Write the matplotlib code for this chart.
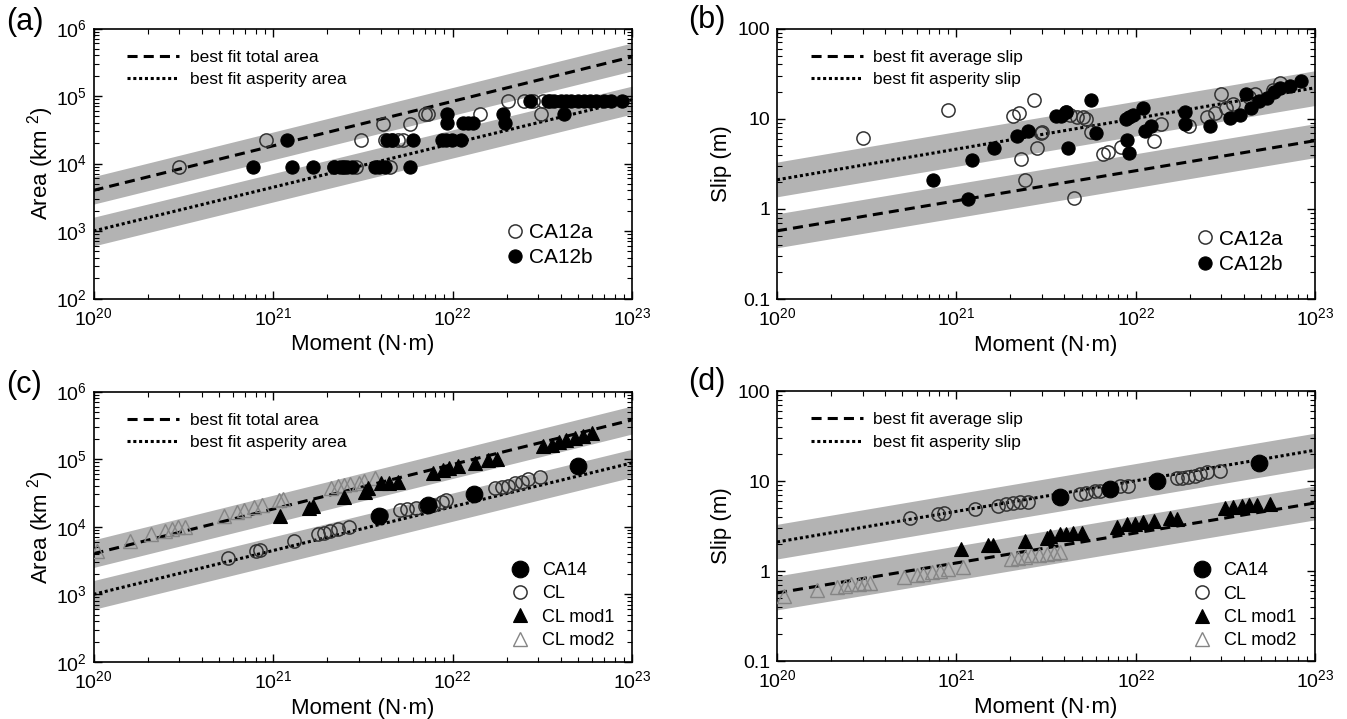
import matplotlib
matplotlib.use('Agg')
import matplotlib.pyplot as plt
from matplotlib import font_manager
from matplotlib.ticker import LogLocator, FixedLocator, FixedFormatter, NullFormatter

installed = {f.name for f in font_manager.fontManager.ttflist}
narrow = 'Liberation Sans Narrow' if 'Liberation Sans Narrow' in installed else 'Liberation Sans'

plt.rcParams['font.family'] = ['Liberation Sans', 'DejaVu Sans']
plt.rcParams['mathtext.fontset'] = 'custom'
plt.rcParams['mathtext.rm'] = 'Liberation Sans'
plt.rcParams['mathtext.it'] = 'Liberation Sans:italic'
plt.rcParams['mathtext.bf'] = 'Liberation Sans:bold'

# ---- best fit lines and bands (values at M = 1e20 and 1e23) ----
fit_m = [1e20, 1e23]
total_area = [4.0e3, 3.8e5]
total_area_lo = [2.5e3, 2.35e5]
total_area_hi = [6.4e3, 6.1e5]
asp_area = [1.0e3, 8.8e4]
asp_area_lo = [6.0e2, 5.4e4]
asp_area_hi = [1.6e3, 1.4e5]
avg_slip = [0.57, 5.7]
avg_slip_lo = [0.37, 3.7]
avg_slip_hi = [0.88, 8.8]
asp_slip = [2.1, 22.0]
asp_slip_lo = [1.36, 14.0]
asp_slip_hi = [3.3, 34.0]

# ---- (a) area, CA12a / CA12b ----
a_open_m = [3.0e20, 9.2e20, 2.2e21, 2.5e21, 2.9e21, 3.1e21, 4.1e21, 4.2e21, 4.5e21, 4.6e21,
            5.0e21, 5.3e21, 5.8e21, 7.0e21, 7.3e21, 1.42e22, 2.04e22, 2.5e22, 2.8e22, 3.1e22,
            3.2e22, 3.5e22]
a_open_a = [8.9e3, 2.2e4, 8.9e3, 8.9e3, 8.9e3, 2.2e4, 3.9e4, 2.2e4, 8.9e3, 2.2e4,
            2.2e4, 2.2e4, 3.9e4, 5.4e4, 5.4e4, 5.4e4, 8.4e4, 8.4e4, 8.4e4, 5.4e4,
            8.4e4, 8.4e4]
a_fill_m = [7.7e20, 1.19e21, 1.27e21, 1.67e21, 2.2e21, 2.35e21, 2.45e21, 2.6e21, 2.75e21, 3.7e21,
            3.9e21, 4.2e21, 5.8e21, 4.3e21, 4.6e21, 6.0e21, 8.7e21, 9.2e21, 9.9e21, 1.12e22,
            9.3e21, 9.3e21, 1.15e22, 1.22e22, 1.3e22, 1.92e22, 1.95e22, 4.2e22, 2.7e22, 3.4e22,
            3.7e22, 4.0e22, 4.3e22, 4.6e22, 5.0e22, 5.4e22, 5.8e22, 6.3e22, 7.0e22, 7.6e22,
            8.8e22]
a_fill_a = [8.9e3, 2.2e4, 8.9e3, 8.9e3, 8.9e3, 8.9e3, 8.9e3, 8.9e3, 8.9e3, 8.9e3,
            8.9e3, 8.9e3, 8.9e3, 2.2e4, 2.2e4, 2.2e4, 2.2e4, 2.2e4, 2.2e4, 2.2e4,
            5.4e4, 4.0e4, 4.0e4, 4.0e4, 4.0e4, 5.4e4, 4.0e4, 5.4e4, 8.4e4, 8.4e4,
            8.4e4, 8.4e4, 8.4e4, 8.4e4, 8.4e4, 8.4e4, 8.4e4, 8.4e4, 8.4e4, 8.4e4,
            8.4e4]

# ---- (b) slip, CA12a / CA12b ----
b_open_m = [3.0e20, 9.0e20, 2.08e21, 2.24e21, 2.7e21, 2.3e21, 2.4e21, 2.8e21, 2.96e21, 3.0e21,
            4.1e21, 4.3e21, 4.7e21, 5.1e21, 5.3e21, 4.55e21, 5.6e21, 6.6e21, 7.0e21, 8.3e21,
            1.26e22, 1.39e22, 1.98e22, 2.5e22, 2.78e22, 3.0e22, 3.2e22, 3.5e22, 4.3e22, 4.6e22,
            5.8e22, 6.4e22]
b_open_s = [6.1, 12.6, 10.6, 11.7, 16.0, 3.6, 2.1, 4.7, 6.9, 7.1,
            12.0, 11.0, 10.4, 10.5, 9.8, 1.31, 7.2, 4.1, 4.3, 4.8,
            5.7, 8.7, 8.2, 10.4, 11.5, 18.9, 13.2, 14.6, 17.3, 19.0,
            21.0, 25.0]
b_fill_m = [7.4e20, 1.16e21, 1.23e21, 1.63e21, 2.18e21, 2.5e21, 3.6e21, 3.85e21, 4.1e21, 4.2e21,
            5.6e21, 6.0e21, 8.8e21, 9.2e21, 9.7e21, 8.9e21, 9.2e21, 1.1e22, 1.13e22, 1.22e22,
            1.88e22, 1.88e22, 2.6e22, 3.36e22, 3.8e22, 4.1e22, 4.4e22, 4.9e22, 5.4e22, 5.9e22,
            6.4e22, 7.3e22, 8.4e22]
b_fill_s = [2.1, 1.3, 3.5, 4.7, 6.4, 7.3, 10.6, 10.8, 12.0, 4.7,
            16.0, 6.9, 9.9, 10.5, 10.9, 5.8, 4.2, 13.0, 7.3, 8.2,
            12.0, 8.7, 8.2, 10.1, 10.9, 19.0, 13.0, 15.6, 17.0, 20.0,
            22.0, 23.0, 26.0]

# ---- (c) area, CA14 / CL / CL mod1 / CL mod2 ----
c_ca14_m = [3.9e21, 7.3e21, 1.31e22, 5.0e22]
c_ca14_a = [1.45e4, 2.1e4, 3.1e4, 7.8e4]
c_cl_m = [5.6e20, 8.0e20, 8.5e20, 1.31e21, 1.77e21, 1.93e21, 2.08e21, 2.3e21, 2.66e21, 4.0e21,
          5.1e21, 5.6e21, 6.3e21, 7.0e21, 7.8e21, 8.7e21, 9.2e21, 1.72e22, 1.88e22, 2.04e22,
          2.23e22, 2.43e22, 2.65e22, 3.08e22]
c_cl_a = [3.5e3, 4.4e3, 4.5e3, 6.2e3, 7.8e3, 8.2e3, 8.7e3, 9.2e3, 1.0e4, 1.5e4,
          1.74e4, 1.84e4, 1.9e4, 2.0e4, 2.07e4, 2.3e4, 2.45e4, 3.8e4, 3.9e4, 4.0e4,
          4.4e4, 4.6e4, 5.0e4, 5.5e4]
c_m1_m = [1.09e21, 1.59e21, 1.66e21, 2.5e21, 3.24e21, 3.4e21, 4.0e21, 4.45e21, 4.97e21, 7.8e21,
          8.85e21, 9.6e21, 1.07e22, 1.33e22, 1.58e22, 1.76e22, 3.2e22, 3.6e22, 3.9e22, 4.3e22,
          4.8e22, 5.3e22, 6.0e22]
c_m1_a = [1.46e4, 1.9e4, 2.0e4, 2.75e4, 3.3e4, 3.7e4, 4.4e4, 4.5e4, 4.6e4, 6.2e4,
          6.8e4, 7.3e4, 7.8e4, 8.7e4, 9.8e4, 1.0e5, 1.55e5, 1.63e5, 1.78e5, 1.9e5,
          2.07e5, 2.2e5, 2.4e5]
c_m2_m = [1.05e20, 1.6e20, 2.1e20, 2.5e20, 2.74e20, 2.94e20, 3.25e20, 5.3e20, 6.3e20, 6.9e20,
          7.8e20, 8.7e20, 1.08e21, 1.13e21, 2.1e21, 2.3e21, 2.5e21, 2.7e21, 3.0e21, 3.2e21,
          3.7e21]
c_m2_a = [4.4e3, 6.2e3, 7.8e3, 8.7e3, 9.2e3, 9.8e3, 1.0e4, 1.46e4, 1.64e4, 1.78e4,
          1.95e4, 2.1e4, 2.45e4, 2.54e4, 3.8e4, 4.0e4, 4.1e4, 4.3e4, 4.5e4, 4.7e4,
          5.2e4]

# ---- (d) slip, CA14 / CL / CL mod1 / CL mod2 ----
d_ca14_m = [3.8e21, 7.2e21, 1.31e22, 4.9e22]
d_ca14_s = [6.7, 8.2, 10.1, 15.8]
d_cl_m = [5.5e20, 7.9e20, 8.5e20, 1.27e21, 1.71e21, 1.9e21, 2.07e21, 2.26e21, 2.52e21, 4.9e21,
          5.3e21, 5.9e21, 6.3e21, 8.2e21, 9.1e21, 1.7e22, 1.81e22, 1.97e22, 2.14e22, 2.29e22,
          2.49e22, 2.96e22]
d_cl_s = [3.9, 4.3, 4.4, 4.9, 5.3, 5.6, 5.7, 5.8, 5.9, 7.2,
          7.3, 7.7, 7.8, 8.7, 8.9, 10.9, 10.9, 11.0, 11.5, 12.0,
          12.5, 13.0]
d_m1_m = [1.06e21, 1.51e21, 1.61e21, 2.4e21, 3.2e21, 3.33e21, 3.8e21, 4.1e21, 4.5e21, 5.0e21,
          7.9e21, 8.9e21, 9.9e21, 1.1e22, 1.26e22, 1.56e22, 1.7e22, 3.15e22, 3.5e22, 3.9e22,
          4.26e22, 4.74e22, 5.6e22]
d_m1_s = [1.75, 1.95, 1.95, 2.18, 2.34, 2.45, 2.55, 2.6, 2.65, 2.65,
          3.07, 3.3, 3.35, 3.5, 3.64, 3.86, 3.8, 5.0, 5.2, 5.3,
          5.35, 5.45, 5.6]
d_m2_m = [1.09e20, 1.67e20, 2.16e20, 2.4e20, 2.6e20, 2.86e20, 3.07e20, 3.3e20, 5.1e20, 6.0e20,
          6.5e20, 7.3e20, 8.1e20, 9.0e20, 1.09e21, 2.03e21, 2.2e21, 2.4e21, 2.6e21, 2.9e21,
          3.2e21, 3.5e21, 3.8e21]
d_m2_s = [0.53, 0.61, 0.66, 0.69, 0.71, 0.72, 0.73, 0.74, 0.85, 0.91,
          0.93, 0.98, 1.0, 1.05, 1.1, 1.36, 1.4, 1.42, 1.49, 1.52,
          1.55, 1.58, 1.62]

BAND = '#b3b3b3'
DASH = (3.3, 2.0)
DOT = (1.0, 0.9)

fig = plt.figure(figsize=(13.47, 7.19), dpi=100)
W, H = 1347.0, 719.0
pos = {
    'a': [93.5 / W, 1 - 298.5 / H, 538.5 / W, 270 / H],
    'b': [777 / W, 1 - 299 / H, 538 / W, 270.5 / H],
    'c': [93.5 / W, 1 - 662 / H, 538.5 / W, 270.5 / H],
    'd': [777 / W, 1 - 661 / H, 538 / W, 270 / H],
}


def style_axes(ax, ylim, slip):
    ax.set_xscale('log')
    ax.set_yscale('log')
    ax.set_xlim(1e20, 1e23)
    ax.set_ylim(*ylim)
    ax.xaxis.set_major_locator(FixedLocator([1e20, 1e21, 1e22, 1e23]))
    ax.xaxis.set_minor_locator(LogLocator(base=10, subs=range(2, 10), numticks=20))
    ax.yaxis.set_minor_locator(LogLocator(base=10, subs=range(2, 10), numticks=20))
    ax.xaxis.set_minor_formatter(NullFormatter())
    ax.yaxis.set_minor_formatter(NullFormatter())
    if slip:
        ax.yaxis.set_major_locator(FixedLocator([0.1, 1, 10, 100]))
        ax.yaxis.set_major_formatter(FixedFormatter(['0.1', '1', '10', '100']))
        ax.set_ylabel('Slip (m)', fontsize=16, labelpad=4)
    else:
        ax.yaxis.set_major_locator(FixedLocator([1e2, 1e3, 1e4, 1e5, 1e6]))
        ax.set_ylabel('Area (km $^{2}$)', fontsize=16, labelpad=0)
    ax.set_xlabel('Moment (N\u00b7m)', fontsize=16, labelpad=4)
    ax.tick_params(which='both', direction='in', top=True, right=True, labelsize=14)
    ax.tick_params(which='major', length=6, width=1.0)
    ax.tick_params(which='minor', length=3.5, width=0.8)
    ax.tick_params(axis='x', which='major', pad=6)
    ax.tick_params(axis='y', which='major', pad=5)
    for s in ax.spines.values():
        s.set_linewidth(1.2)


def draw_fits(ax, upper, upper_lo, upper_hi, lower, lower_lo, lower_hi, labels):
    ax.fill_between(fit_m, upper_lo, upper_hi, color=BAND, lw=0, zorder=1)
    ax.fill_between(fit_m, lower_lo, lower_hi, color=BAND, lw=0, zorder=1)
    l1, = ax.plot(fit_m, upper, color='black', lw=2.2, dashes=DASH, zorder=2)
    l2, = ax.plot(fit_m, lower, color='black', lw=2.2, dashes=DOT, zorder=2)
    leg = ax.legend([l1, l2], labels, loc='upper left', bbox_to_anchor=(0.05, 0.947),
                    frameon=False, handlelength=3.0, handletextpad=0.6, labelspacing=0.42,
                    borderaxespad=0, prop={'family': narrow, 'size': 12.5})
    ax.add_artist(leg)


def open_circle(ax, x, y, ms=9.5):
    return ax.plot(x, y, 'o', ms=ms, mfc='none', mec='#333333', mew=1.1, ls='none', zorder=3)[0]


def filled_circle(ax, x, y, ms=9.5):
    return ax.plot(x, y, 'o', ms=ms, mfc='black', mec='black', mew=0.8, ls='none', zorder=3)[0]


def mod1(ax, x, y):
    return ax.plot(x, y, '^', ms=10.5, mfc='black', mec='black', mew=0.8, ls='none', zorder=3)[0]


def mod2(ax, x, y):
    return ax.plot(x, y, '^', ms=10.5, mfc='none', mec='#858585', mew=1.0, ls='none', zorder=3)[0]


def marker_legend(ax, handles, labels, anchor, size, textpad, hlen, spacing):
    ax.legend(handles, labels, loc='lower right', bbox_to_anchor=anchor, frameon=False,
              fontsize=size, handletextpad=textpad, labelspacing=spacing,
              borderaxespad=0, handlelength=hlen)


# (a)
ax = fig.add_axes(pos['a'])
style_axes(ax, (1e2, 1e6), False)
draw_fits(ax, total_area, total_area_lo, total_area_hi, asp_area, asp_area_lo, asp_area_hi,
          ['best fit total area', 'best fit asperity area'])
h1 = open_circle(ax, a_open_m, a_open_a)
h2 = filled_circle(ax, a_fill_m, a_fill_a)
marker_legend(ax, [h1, h2], ['CA12a', 'CA12b'], (0.943, 0.084), 15, 0.25, 0.9, 0.3)

# (b)
ax = fig.add_axes(pos['b'])
style_axes(ax, (0.1, 100), True)
draw_fits(ax, avg_slip, avg_slip_lo, avg_slip_hi, asp_slip, asp_slip_lo, asp_slip_hi,
          ['best fit average slip', 'best fit asperity slip'])
h1 = open_circle(ax, b_open_m, b_open_s)
h2 = filled_circle(ax, b_fill_m, b_fill_s)
marker_legend(ax, [h1, h2], ['CA12a', 'CA12b'], (0.956, 0.062), 15, 0.25, 0.9, 0.3)

# (c)
ax = fig.add_axes(pos['c'])
style_axes(ax, (1e2, 1e6), False)
draw_fits(ax, total_area, total_area_lo, total_area_hi, asp_area, asp_area_lo, asp_area_hi,
          ['best fit total area', 'best fit asperity area'])
h3 = mod2(ax, c_m2_m, c_m2_a)
h2 = open_circle(ax, c_cl_m, c_cl_a)
h4 = mod1(ax, c_m1_m, c_m1_a)
h1 = filled_circle(ax, c_ca14_m, c_ca14_a, ms=12)
marker_legend(ax, [h1, h2, h4, h3], ['CA14', 'CL', 'CL mod1', 'CL mod2'],
              (0.980, 0.022), 13, 0.62, 1.2, 0.35)

# (d)
ax = fig.add_axes(pos['d'])
style_axes(ax, (0.1, 100), True)
draw_fits(ax, avg_slip, avg_slip_lo, avg_slip_hi, asp_slip, asp_slip_lo, asp_slip_hi,
          ['best fit average slip', 'best fit asperity slip'])
h3 = mod2(ax, d_m2_m, d_m2_s)
h2 = open_circle(ax, d_cl_m, d_cl_s)
h4 = mod1(ax, d_m1_m, d_m1_s)
h1 = filled_circle(ax, d_ca14_m, d_ca14_s, ms=12)
marker_legend(ax, [h1, h2, h4, h3], ['CA14', 'CL', 'CL mod1', 'CL mod2'],
              (0.978, 0.016), 13, 0.62, 1.2, 0.35)

# panel letters
fig.text(6 / W, 1 - 22 / H, '(a)', fontsize=22, va='center', ha='left')
fig.text(688 / W, 1 - 20 / H, '(b)', fontsize=22, va='center', ha='left')
fig.text(6 / W, 1 - 385 / H, '(c)', fontsize=22, va='center', ha='left')
fig.text(688 / W, 1 - 382 / H, '(d)', fontsize=22, va='center', ha='left')

fig.savefig('out.png', dpi=100)
